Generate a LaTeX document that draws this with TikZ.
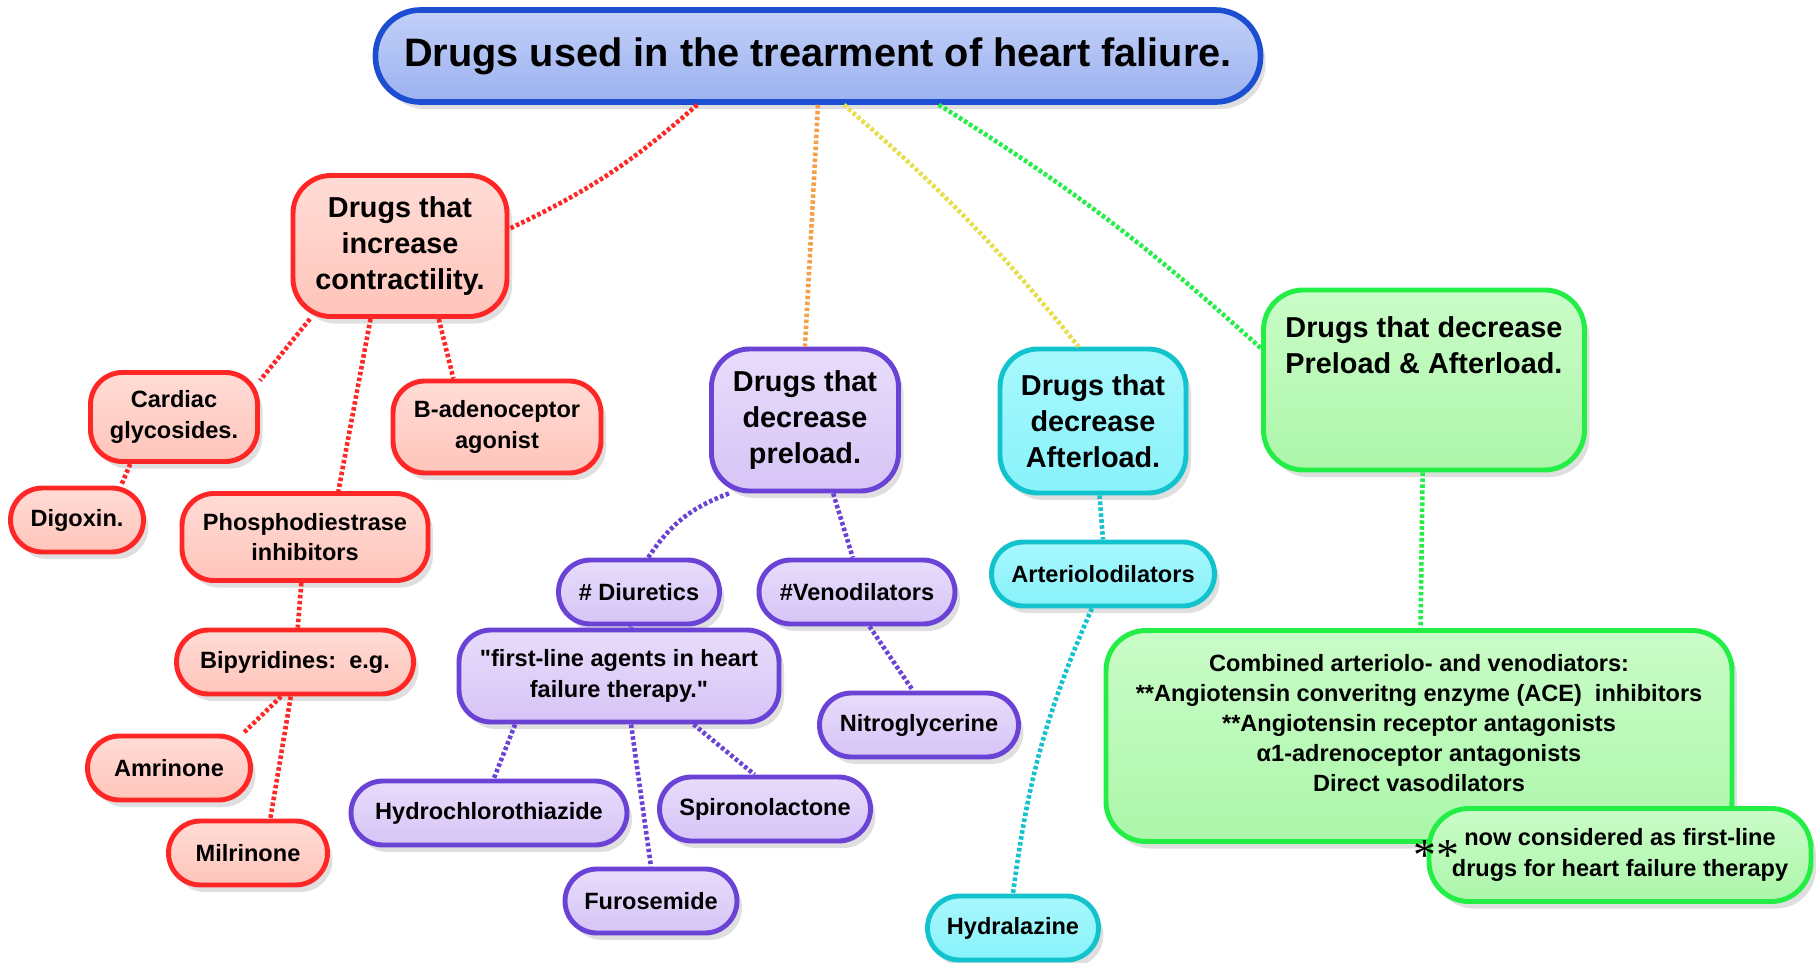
\documentclass[tikz,border=0pt]{standalone}
\usepackage{fontspec}
\setmainfont{Liberation Sans}
\newfontfamily\starfont{Liberation Serif}
\usetikzlibrary{shadows}
\definecolor{redline}{HTML}{FF2626}
\definecolor{redtop}{HTML}{FFDCD6}
\definecolor{redbot}{HTML}{FFC4BA}
\definecolor{purline}{HTML}{6A42D6}
\definecolor{purtop}{HTML}{E8DCFB}
\definecolor{purbot}{HTML}{D6C4F6}
\definecolor{cyline}{HTML}{12C2CC}
\definecolor{cytop}{HTML}{A8F8FD}
\definecolor{cybot}{HTML}{88F2FA}
\definecolor{grline}{HTML}{22EE46}
\definecolor{grtop}{HTML}{CAFCC8}
\definecolor{grbot}{HTML}{ACF6AA}
\definecolor{blline}{HTML}{1C4ED2}
\definecolor{bltop}{HTML}{C2D0F8}
\definecolor{blbot}{HTML}{9CB2F0}
\definecolor{orlink}{HTML}{F4A04A}
\definecolor{yelink}{HTML}{E6DE4C}
\begin{document}
\begin{tikzpicture}[x=.1mm,y=-.1mm,line join=round,
box/.style={draw,line width=1.4pt,rounded corners=3.2mm,align=center,inner xsep=1mm,
  minimum height=6.4mm,font=\bfseries\fontsize{6.7}{8.6}\selectfont,
  drop shadow={shadow xshift=.5mm,shadow yshift=-.7mm,opacity=.25}},
big/.style={rounded corners=3.8mm,font=\bfseries\fontsize{8.2}{10.3}\selectfont},
rd/.style={box,draw=redline,top color=redtop,bottom color=redbot},
pu/.style={box,draw=purline,top color=purtop,bottom color=purbot},
cy/.style={box,draw=cyline,top color=cytop,bottom color=cybot},
gr/.style={box,draw=grline,top color=grtop,bottom color=grbot},
link/.style={line width=1.3pt,line cap=butt,dash pattern=on 1pt off .7pt}]
\useasboundingbox[fill=white] (0,0) rectangle (1816,963);

\node[box,draw=blline,top color=bltop,bottom color=blbot,line width=1.6pt,rounded corners=4.5mm,
  minimum width=88.5mm,minimum height=9.2mm,font=\bfseries\fontsize{11.3}{13.5}\selectfont]
  (title) at (818,56) {Drugs used in the trearment of heart faliure.};

\node[rd,big,minimum width=21.4mm,minimum height=14.1mm] (contr) at (400,246) {Drugs that\\increase\\contractility.};
\node[rd,minimum width=16.7mm,minimum height=8.9mm] (card) at (174,417) {Cardiac\\glycosides.};
\node[rd,minimum width=20.8mm,minimum height=9.2mm] (beta) at (497,427) {B-adenoceptor\\agonist};
\node[rd,minimum width=13.3mm] (dig) at (77,520) {Digoxin.};
\node[rd,minimum width=24.6mm,minimum height=8.7mm] (pde) at (305,537) {Phosphodiestrase\\inhibitors};
\node[rd,minimum width=23.7mm] (bipy) at (295,662) {Bipyridines:\ \ e.g.};
\node[rd,minimum width=16.3mm] (amr) at (169,768) {Amrinone};
\node[rd,minimum width=15.9mm] (mil) at (248,853) {Milrinone};

\node[pu,big,minimum width=18.7mm,minimum height=14.2mm] (pre) at (805,420) {Drugs that\\decrease\\preload.};
\node[pu,minimum width=16.1mm] (diur) at (639,592) {\# Diuretics};
\node[pu,minimum width=19.6mm] (ven) at (857,592) {\#Venodilators};
\node[pu,minimum width=32mm,minimum height=9.2mm] (first) at (619,676) {\textquotedbl first-line agents in heart\\failure therapy.\textquotedbl};
\node[pu,minimum width=19.9mm] (nitro) at (919,725) {Nitroglycerine};
\node[pu,minimum width=27.6mm] (hct) at (489,813) {Hydrochlorothiazide};
\node[pu,minimum width=21.1mm] (spiro) at (765,809) {Spironolactone};
\node[pu,minimum width=17.2mm] (furo) at (651,901) {Furosemide};

\node[cy,big,minimum width=18.6mm,minimum height=14.4mm] (after) at (1093,421) {Drugs that\\decrease\\Afterload.};
\node[cy,minimum width=22.3mm] (art) at (1103,574) {Arteriolodilators};
\node[cy,minimum width=17.1mm] (hyd) at (1013,928) {Hydralazine};

\node[gr,big,rounded corners=4mm,minimum width=32.1mm,minimum height=18mm,text depth=7mm] (both) at (1424,380) {Drugs that decrease\\Preload \& Afterload.};
\node[gr,rounded corners=4mm,minimum width=62.6mm,minimum height=21.1mm,text depth=2.6mm] (comb) at (1419,736)
  {Combined arteriolo- and venodiators:\\**Angiotensin converitng enzyme (ACE)\ \ inhibitors\\**Angiotensin receptor antagonists\\α1-adrenoceptor antagonists\\Direct vasodilators};
\node[gr,rounded corners=4mm,minimum width=38.2mm,minimum height=9.3mm] (note) at (1620,855) {now considered as first-line\\drugs for heart failure therapy};
\node[inner sep=0,font=\starfont\fontsize{13}{13}\selectfont] (stars) at (1436,856) {**};

\draw[link,redline] (title.202) to[bend left=8] (contr.9);
\draw[link,orlink] (title.south) -- (pre.north);
\draw[link,yelink] (title.-62) to[bend left=5] (after.101);
\draw[link,grline] (title.-22) to[bend left=5] (both.169);

\foreach \a/\b in {contr.219/card.23, contr.248/pde.54, contr.-62/beta.132, card.227/dig.38,
  pde/bipy, bipy.248/amr.25, bipy.263/mil.57}
\draw[link,redline] (\a) -- (\b);

\draw[link,purline] (pre.224) to[bend right=18] (diur.75);
\foreach \a/\b in {pre.-69/ven.97, diur/first, ven.-70/nitro.100, first.205/hct.82,
  first.-76/furo.north, first.-33/spiro.107}
\draw[link,purline] (\a) -- (\b);

\draw[link,cyline] (after.-85) -- (art.north);
\draw[link,cyline] (art.252) to[bend right=8] (hyd.north);
\draw[link,grline] (both) -- (comb);
\end{tikzpicture}
\end{document}
